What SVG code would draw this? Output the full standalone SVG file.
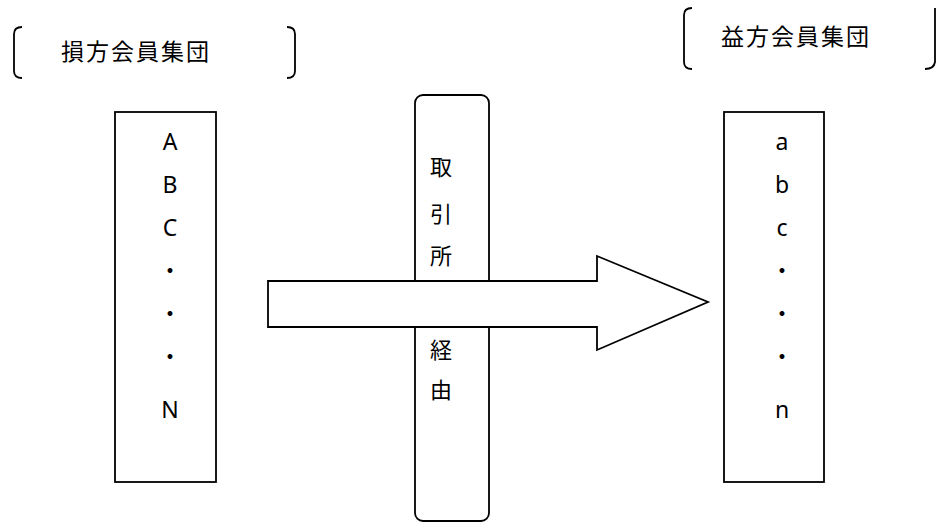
<svg xmlns="http://www.w3.org/2000/svg" width="936" height="523" viewBox="0 0 936 523">
<style>
.ln{fill:none;stroke:#000;stroke-width:1.8}
.bx{fill:#fff;stroke:#000;stroke-width:1.8}
.t{font-family:"Noto Sans","Noto Sans CJK JP",sans-serif;font-size:23px;fill:#000;text-anchor:middle}
.h{font-family:"Noto Sans CJK JP","Noto Sans",sans-serif;font-size:23px;fill:#000;letter-spacing:2px}
.v{font-family:"Noto Sans CJK JP",sans-serif;font-size:22px;fill:#000;text-anchor:middle}
</style>
<rect width="936" height="523" fill="#fff"/>
<g id="loss-title">
<path class="ln" d="M22 27 Q14 27 14 34 L14 71 Q14 78 22 78"/>
<path class="ln" d="M287 27 Q295 27 295 34 L295 71 Q295 78 287 78"/>
<text class="h" x="61" y="60">損方会員集団</text>
</g>
<g id="gain-title">
<path class="ln" d="M692 8 Q684 8 684 15 L684 62 Q684 69 692 69"/>
<path class="ln" d="M925 69 Q934 69 935 62 L935 8"/>
<text class="h" x="721" y="45">益方会員集団</text>
</g>
<g id="loss-members">
<rect class="bx" x="115" y="112" width="101" height="370"/>
<text class="t" x="170" y="150">A</text>
<text class="t" x="170" y="193">B</text>
<text class="t" x="170" y="236">C</text>
<text class="t" x="170" y="279">・</text>
<text class="t" x="170" y="322">・</text>
<text class="t" x="170" y="365">・</text>
<text class="t" x="170" y="418">N</text>
</g>
<g id="gain-members">
<rect class="bx" x="724" y="112" width="100" height="370"/>
<text class="t" x="782" y="150">a</text>
<text class="t" x="782" y="193">b</text>
<text class="t" x="782" y="236">c</text>
<text class="t" x="782" y="279">・</text>
<text class="t" x="782" y="322">・</text>
<text class="t" x="782" y="365">・</text>
<text class="t" x="782" y="418">n</text>
</g>
<g id="exchange">
<rect class="bx" x="415" y="95" width="74" height="426" rx="8"/>
<text class="v" x="441" y="175">取</text>
<text class="v" x="441" y="222">引</text>
<text class="v" x="441" y="264">所</text>
<text class="v" x="441" y="358">経</text>
<text class="v" x="441" y="398">由</text>
</g>
<g id="connectors">
<polygon class="bx" points="268,281 597,281 597,256 708,302 597,350 597,327 268,327"/>
</g>
</svg>
